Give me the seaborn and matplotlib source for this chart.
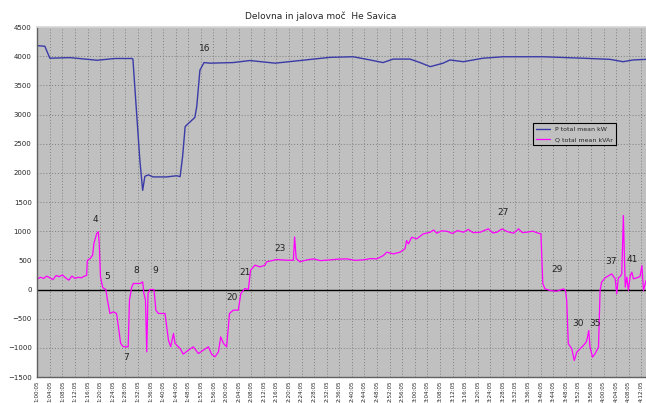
import numpy as np
import pandas as pd
import seaborn as sns
import matplotlib.pyplot as plt

# P total (blue) - minute / kW
p_min = [0, 2.4, 4.0, 10.4, 19.0, 19.9, 24.7, 30.1, 30.4, 32.6, 33.5, 34.2, 35.3, 36.8,
         41.1, 44.3, 45.4, 46.2, 47.0, 47.5, 50.1, 50.7, 51.7, 53.0, 54.9, 62.2, 67.6,
         75.6, 83.5, 93.1, 100.4, 105.8, 109.9, 113.1, 118.5, 121.7, 124.9, 129.0, 131.2,
         135.4, 141.7, 148.1, 160.8, 173.5, 182.1, 186.2, 189.4, 193.5]
p_val = [4180, 4170, 3965, 3975, 3930, 3935, 3960, 3960, 3950, 2220, 1700, 1940, 1965, 1930,
         1930, 1950, 1935, 2280, 2790, 2820, 2950, 3140, 3760, 3890, 3880, 3890, 3925,
         3880, 3925, 3980, 3990, 3935, 3890, 3950, 3950, 3890, 3820, 3880, 3935,
         3905, 3965, 3990, 3990, 3965, 3945, 3905, 3935, 3945]

# Q total (magenta)
q_min = [0, 1, 2, 3, 4, 5, 6, 7, 8, 9, 10, 11, 12, 13, 14, 15, 15.7,
         15.9, 16.8, 17.6, 18.0, 18.9, 19.4, 19.7, 20.1, 20.8, 21.8, 22.3, 23.1, 24.2,
         25.2, 25.8, 26.5, 27.4, 28.9, 29.3, 30.0, 30.5, 32.7, 33.5, 33.9, 34.4, 34.8,
         35.2, 35.8, 37.1, 37.7, 38.5, 40.6, 41.7, 42.4, 43.3, 43.8, 45.4, 46.4, 48.0,
         49.6, 51.2, 52.8, 54.4, 55.4, 56.5, 57.6, 58.3, 59.2, 60.2, 61.1, 62.3, 63.9,
         64.7, 66.0, 67.1, 67.8, 69.2, 70.8, 72.4, 72.9, 76.1, 79.3, 81.4, 81.8, 82.3,
         83.5, 85.5, 87.8, 90.0, 93.1, 95.5, 98.4, 101.0, 103.7, 106.0, 107.9, 110.0,
         111.1, 113.2, 115.3, 116.9, 117.4, 118.0, 119.0, 120.6, 122.7, 124.9, 126.0,
         127.0, 128.5, 130.2, 132.0, 133.5, 135.5, 137.0, 138.5, 140.8, 142.0, 143.4,
         144.8, 146.1, 147.7, 149.5, 151.4, 153.0, 154.2, 155.6, 157.5, 159.3, 160.1,
         160.7, 161.4, 163.0, 165.1, 167.3, 167.9, 168.3, 168.8, 169.9, 170.7, 171.5,
         173.6, 174.5, 174.9, 175.3, 175.7, 176.5, 177.3, 178.4, 178.9, 179.4, 180.5,
         182.6, 183.7, 184.2, 184.7, 185.3, 185.8, 186.3, 186.9, 187.4, 187.9, 188.5,
         189.0, 189.5, 190.6, 191.6, 192.2, 192.7, 193.5]
q_val = [180, 210, 190, 230, 200, 170, 240, 220, 250, 200, 160, 230, 190, 210, 200, 230, 240,
         500, 530, 590, 790, 960, 990, 790, 217, 34, 0, -183, -411, -383,
         -411, -640, -925, -982, -982, -183, 34, 103, 103, 131, -69, -183, -1068,
         -69, 0, 0, -354, -411, -411, -868, -982, -754, -925, -1011, -1108, -1040,
         -982, -1097, -1040, -982, -1108, -1154, -1068, -811, -925, -982, -411, -354, -354,
         -69, 17, 0, 331, 417, 388, 417, 474, 514, 502, 502, 900, 531,
         474, 505, 525, 495, 508, 520, 525, 500, 508, 530, 525, 582,
         640, 611, 640, 697, 839, 782, 896, 868, 954, 982, 1020,
         965, 1005, 999, 960, 1010, 982, 1030, 975, 982, 1010, 1039,
         970, 982, 1039, 990, 965, 1039, 975, 982, 1000, 965, 954,
         97, 11, -17, -29, 11, -17, -188, -931, -1016, -1216, -1073,
         -959, -902, -817, -702, -988, -1159, -1102, -988, -17, 126, 200,
         268, 183, -74, 200, 223, 268, 1268, 40, 211, -17, 240,
         297, 183, 200, 223, 411, -17, 154]

# point labels (number, minute, value)
note_txt = ["16", "4", "5", "8", "9", "7", "20", "21", "23", "27", "29", "30", "35", "37", "41"]
note_min = [53.3, 18.4, 22.2, 31.6, 37.4, 28.2, 62.0, 66.0, 77.2, 148.2, 165.3, 171.8, 177.3, 182.4, 189.2]
note_val = [4140, 1196, 220, 328, 328, -1172, -145, 283, 711, 1321, 340, -585, -585, 482, 511]

# x tick labels every 4 minutes (as visible in the picture)
tick_min = list(range(0, 196, 4))
tick_lab = ["%d:%02d:05" % (1 + m // 60, m % 60) for m in tick_min]

df_p = pd.DataFrame({"min": p_min, "val": p_val})
df_q = pd.DataFrame({"min": q_min, "val": q_val})

sns.set_theme(style="whitegrid", rc={"axes.facecolor": "#c0c0c0",
                                     "grid.color": "#808080",
                                     "grid.linestyle": (0, (1, 2)),
                                     "grid.linewidth": 0.7})
plt.rcParams["font.family"] = ["DejaVu Sans"]

fig = plt.figure(figsize=(6.46, 4.03), dpi=100)
ax = fig.add_axes([0.0577, 0.0645, 0.9423, 0.8685])

sns.lineplot(data=df_p, x="min", y="val", ax=ax, color="#3a3aa8", lw=1.0,
             estimator=None, sort=False, label="P total mean kW")
sns.lineplot(data=df_q, x="min", y="val", ax=ax, color="#ff00ff", lw=0.9,
             estimator=None, sort=False, label="Q total mean kVAr")
ax.axhline(0, color="black", lw=1.0, zorder=1)

for t, m, v in zip(note_txt, note_min, note_val):
    ax.text(m, v, t, fontsize=6.5, color="#222222", ha="center", va="center")

ax.set_xlim(0, 193.5)
ax.set_ylim(-1500, 4500)
ax.set_yticks(range(-1500, 4501, 500))
ax.set_xticks(tick_min)
ax.set_xticklabels(tick_lab, rotation=90, fontsize=4.1, va="top")
ax.tick_params(axis="y", labelsize=5, length=2, pad=2)
ax.tick_params(axis="x", length=1.5, pad=1)
ax.set_xlabel("")
ax.set_ylabel("")

for s in ["left", "bottom"]:
    ax.spines[s].set_color("#606060")
    ax.spines[s].set_linewidth(1.0)
ax.spines["top"].set_color("#d8d8d8")
ax.spines["right"].set_visible(False)

leg = ax.legend(loc="upper left", bbox_to_anchor=(0.809, 0.734), fontsize=4.5,
                frameon=True, fancybox=False, edgecolor="black", framealpha=1,
                handlelength=2.2, borderpad=0.5, labelspacing=0.8)
leg.get_frame().set_linewidth(0.8)

fig.text(0.497, 0.96, "Delovna in jalova moč  He Savica", fontsize=6.5,
         ha="center", va="center")

fig.savefig("out.png", dpi=100)
